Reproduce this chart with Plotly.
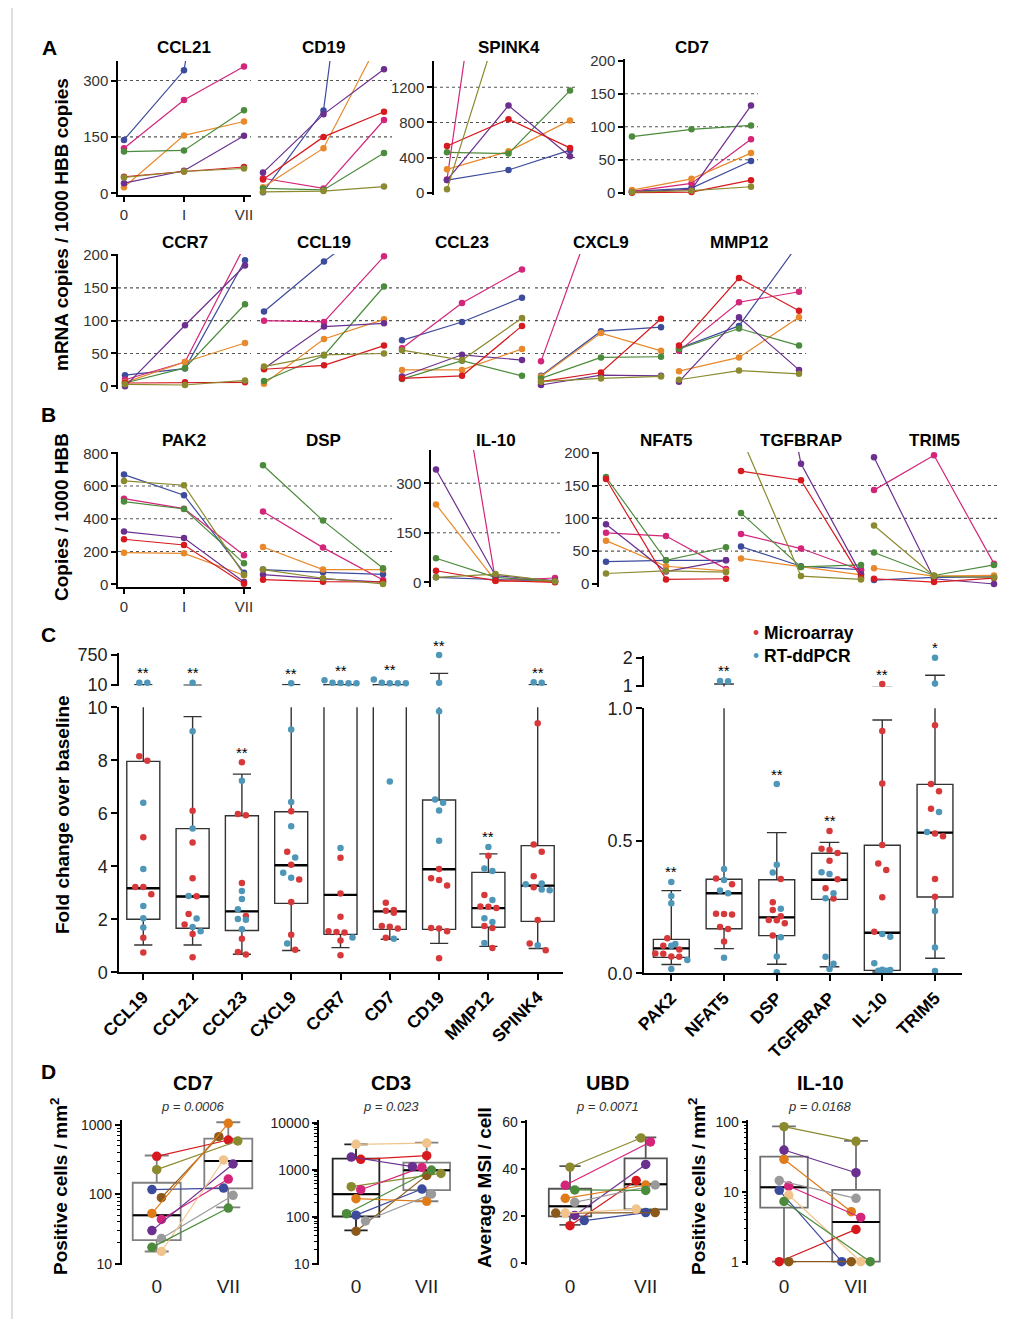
import math
import plotly.graph_objects as go

W, H = 1028, 1319
OX, OY = 8, 8  # page offset of the plot div (body margin) compensated in the pixel mapping
FONT = 'Liberation Sans, Arial, Helvetica, sans-serif'

# ---------------------------------------------------------------- DATA
TIMEPOINTS = ['0', 'I', 'VII']
# subjects (panels A, B): blue, magenta, orange, green, purple, red, olive
SUBJECT_COLORS = ['#3d4b9c', '#d3257a', '#e8892b', '#4b8b3b', '#6b2f8f', '#d61a1f', '#8b8a2f']

# Panel A: mRNA copies / 1000 HBB copies, each row = subject, columns = 0, I, VII
CCL21 = [[142, 327, 1280], [120, 248, 337], [16, 154, 191], [111, 114, 221], [27, 60, 153], [44, 58, 70], [42, 58, 66]]
CD19 = [[3, 220, 1450], [40, 13, 195], [16, 120, 430], [13, 9, 107], [55, 210, 330], [37, 150, 217], [4, 6, 18]]
SPINK4 = [[144, 258, 484], [150, 5000, 4000], [266, 471, 823], [460, 445, 1163], [144, 992, 415], [532, 836, 510], [38, 2270, 2500]]
CD7_A = [[2, 7, 48], [2, 14, 81], [4, 21, 60], [85, 96, 102], [1, 5, 132], [0, 1, 19], [1, 3, 9]]
CCR7 = [[17, 27, 192], [10, 37, 215], [6, 37, 66], [5, 28, 125], [0, 93, 184], [5, 6, 6], [3, 2, 9]]
CCL19 = [[114, 190, 260], [100, 98, 198], [4, 72, 102], [8, 47, 152], [27, 91, 96], [26, 32, 62], [30, 48, 50]]
CCL23 = [[70, 98, 135], [58, 127, 178], [25, 25, 57], [11, 39, 16], [15, 48, 40], [12, 16, 92], [55, 40, 104]]
CXCL9 = [[16, 84, 90], [38, 290, None], [15, 81, 54], [12, 44, 45], [2, 17, 16], [7, 21, 103], [7, 12, 15]]
MMP12 = [[58, 92, 218], [54, 128, 144], [23, 44, 105], [57, 88, 62], [7, 105, 25], [62, 165, 115], [10, 24, 19]]

# Panel B: copies / 1000 HBB
PAK2 = [[670, 544, 71], [523, 462, 177], [193, 189, 55], [505, 460, 128], [322, 283, 14], [275, 240, 4], [631, 605, 59]]
DSP = [[90, 73, 61], [444, 224, 26], [228, 90, 90], [727, 389, 98], [59, 33, 14], [28, 16, 15], [90, 37, 2]]
IL10_B = [[15, 8, 2], [1080, 5, 13], [236, 4, 2], [73, 15, 3], [342, 20, 5], [35, 5, 0], [15, 25, 3]]
NFAT5 = [[34, 36, 36], [78, 73, 23], [66, 27, 20], [163, 36, 56], [91, 19, 36], [160, 7, 8], [16, 20, 18]]
TGFBRAP = [[57, 27, 22], [76, 54, 21], [39, 26, 14], [108, 26, 29], [640, 183, 15], [172, 158, 10], [225, 12, 7]]
TRIM5 = [[6, 10, 11], [143, 196, 31], [24, 12, 13], [48, 13, 29], [193, 8, 0], [8, 3, 9], [89, 12, 10]]

# Panel C: fold change over baseline
MICRO_COLOR = '#d7393b'
DDPCR_COLOR = '#4f97b9'
LEFT_GENES = ['CCL19', 'CCL21', 'CCL23', 'CXCL9', 'CCR7', 'CD7', 'CD19', 'MMP12', 'SPINK4']
MICRO_LEFT = [
    [8.15, 7.98, 5.1, 3.22, 3.22, 2.95, 1.3, 0.75],
    [6.1, 4.9, 3.55, 2.87, 2.2, 1.8, 1.45, 0.57],
    [7.93, 5.97, 5.93, 3.37, 2.12, 1.27, 0.77, 0.67],
    [6.08, 4.55, 4.06, 3.5, 2.65, 1.42, 0.85],
    [4.32, 2.97, 2.1, 1.52, 1.55, 1.5, 1.2, 0.64],
    [2.62, 2.35, 2.32, 2.25, 1.75, 1.72, 1.65, 1.3],
    [3.9, 3.55, 3.48, 3.28, 1.65, 1.67, 1.55, 0.53],
    [4.4, 2.92, 2.48, 2.47, 2.43, 1.75, 1.67, 0.92],
    [9.4, 4.82, 4.55, 3.62, 3.21, 1.97, 1.09, 0.83],
]
DDPCR_LEFT = [
    [14, 14, 6.4, 3.9, 2.5, 2.04, 1.69],
    [14, 9.1, 5.43, 2.88, 2.03, 1.71, 1.55],
    [7.23, 3.07, 2.77, 2.38, 2.01, 1.98, 1.62],
    [13, 9.16, 6.43, 5.51, 4.33, 3.76, 3.57, 1.09],
    [13, 13, 13.5, 14, 20, 4.69, 1.31],
    [13, 14, 13, 13, 22, 7.2, 1.27],
    [750, 14, 9.85, 6.52, 6.4, 6.11, 4.96],
    [4.73, 3.92, 3.82, 2.73, 2.04, 1.9, 1.11],
    [14, 15, 3.35, 3.32, 3.1, 3.12, 1.02],
]
Q1_LEFT = [2.0, 1.66, 1.58, 2.6, 1.43, 1.62, 1.62, 1.7, 1.92]
MED_LEFT = [3.17, 2.86, 2.3, 4.04, 2.92, 2.3, 3.89, 2.42, 3.27]
Q3_LEFT = [7.96, 5.42, 5.91, 6.06, 10.3, 10.3, 6.5, 3.77, 4.78]
LO_LEFT = [1.03, 1.03, 0.68, 0.82, 0.93, 1.25, 1.09, 0.98, 0.9]
HI_LEFT = [10.5, 9.65, 7.48, 10.5, 10.4, 10.4, 53, 4.47, 10.5]
SIG_LEFT = ['**', '**', '**', '**', '**', '**', '**', '**', '**']

RIGHT_GENES = ['PAK2', 'NFAT5', 'DSP', 'TGFBRAP', 'IL-10', 'TRIM5']
MICRO_RIGHT = [
    [0.132, 0.104, 0.09, 0.074, 0.075, 0.063, 0.062],
    [0.358, 0.336, 0.224, 0.222, 0.225, 0.167, 0.175, 0.12],
    [0.356, 0.268, 0.239, 0.215, 0.201, 0.2, 0.189, 0.143],
    [0.537, 0.465, 0.47, 0.454, 0.425, 0.355, 0.321, 0.282],
    [1.07, 0.914, 0.716, 0.484, 0.414, 0.39, 0.287, 0.157],
    [0.936, 0.714, 0.687, 0.621, 0.528, 0.517, 0.356, 0.289],
]
DDPCR_RIGHT = [
    [0.345, 0.292, 0.264, 0.111, 0.104, 0.05, 0.016],
    [1.18, 1.17, 0.394, 0.352, 0.312, 0.302, 0.059],
    [0.714, 0.41, 0.38, 0.244, 0.136, 0.063, 0.004],
    [0.381, 0.375, 0.302, 0.283, 0.062, 0.036, 0.016],
    [0.148, 0.138, 0.038, 0.013, 0.012, 0.01, 0.01],
    [2.0, 1.09, 0.609, 0.533, 0.235, 0.097, 0.009],
]
Q1_RIGHT = [0.06, 0.168, 0.142, 0.279, 0.011, 0.288]
MED_RIGHT = [0.094, 0.302, 0.211, 0.353, 0.153, 0.531]
Q3_RIGHT = [0.128, 0.355, 0.353, 0.453, 0.483, 0.713]
LO_RIGHT = [0.033, 0.093, 0.034, 0.025, 0.005, 0.057]
HI_RIGHT = [0.312, 1.07, 0.531, 0.494, 0.956, 1.38]
SIG_RIGHT = ['**', '**', '**', '**', '**', '*']

# Panel D: subjects red, olive, blue, brown, orange, magenta, purple, gray, tan, green
D_COLORS = ['#d61a1f', '#8b8a2f', '#3d4b9c', '#8b5a1a', '#e07b1a', '#d3257a', '#6b2f8f', '#9a9a9a', '#f2c48d', '#4b8b3b']
D_TICKS = ['0', 'VII']
CD7_D0 = [353, 227, 117, 89.5, 53, 43.5, 30, 23, 15, 17.2]
CD7_D7 = [608, 588, 123, 679, 1057, 166, 274, 97, 313, 63.5]
CD3_D0 = [1660, 435, 108, 49, 242, 375, 1860, 81, 3460, 116]
CD3_D7 = [1985, 835, 388, 757, 212, 1120, 1160, 303, 3690, 984]
UBD_D0 = [15.8, 40.8, 18.0, 21.2, 27.5, 33.1, 20.2, 25.8, 21.2, 31.1]
UBD_D7 = [35.1, 53.3, 21.4, 21.4, 33.2, 51.6, 42.0, 33.2, 22.9, 30.9]
IL10_D0 = [1, 85.7, 10.5, 1, 29.2, 12.1, 39.7, 14.5, 9.0, 7.3]
IL10_D7 = [2.9, 52.9, 1, 1, 5.2, 4.3, 18.8, 8.07, 1, 1]
# box stats [day 0, day VII]
CD7_BOX = dict(q1=[21.9, 122], med=[49.8, 302], q3=[147, 635], lo=[15, 65], hi=[363, 1096])
CD3_BOX = dict(q1=[101, 369], med=[302, 968], q3=[1714, 1409], lo=[51, 213], hi=[3450, 3750])
UBD_BOX = dict(q1=[19.8, 22.8], med=[24.1, 33.5], q3=[31.6, 44.6], lo=[16.2, 22.0], hi=[41.3, 53.6])
IL10_BOX = dict(q1=[5.93, 1], med=[11.6, 3.7], q3=[31.9, 10.7], lo=[1, 1], hi=[86.7, 53.5])
P_VALUES = ['p = 0.0006', 'p = 0.023', 'p = 0.0071', 'p = 0.0168']

# ---------------------------------------------------------------- HELPERS
fig = go.Figure()
LAYOUT_AXES = {}
ANN = []
SHAPES = []
AXES = []
LINE_EW_FACTOR = 1.4  # plotly draws the 'line-ew' symbol 1.4x its nominal size


def pxx(p):
    return (p - OX) / W


def pxy(p):
    return 1 - (p - OY) / H


def lin_range(p_lo, p_hi, va, pa, vb, pb):
    k = (vb - va) / (pb - pa)
    return [va + (p_lo - pa) * k, va + (p_hi - pa) * k]


def make_axes(x0, x1, ytop, ybot, xcal, ycal, ylog=False, xstyle=None, ystyle=None):
    n = len(AXES) + 1
    sfx = '' if n == 1 else str(n)
    xr = lin_range(x0, x1, *xcal)
    (va, pa), (vb, pb) = ycal
    if ylog:
        va, vb = math.log10(va), math.log10(vb)
    yr = lin_range(ybot, ytop, va, pa, vb, pb)
    xd = dict(domain=[pxx(x0), pxx(x1)], range=xr, anchor='y' + sfx, showgrid=False, zeroline=False,
              showline=False, ticks='', showticklabels=False, fixedrange=True, automargin=False)
    yd = dict(domain=[pxy(ybot), pxy(ytop)], range=yr, anchor='x' + sfx, showgrid=False,
              zeroline=False, showline=False, ticks='', showticklabels=False, fixedrange=True,
              automargin=False)
    if ylog:
        yd['type'] = 'log'
    if xstyle:
        xd.update(xstyle)
    if ystyle:
        yd.update(ystyle)
    LAYOUT_AXES['xaxis' + sfx] = xd
    LAYOUT_AXES['yaxis' + sfx] = yd
    m = dict(x='x' + sfx, y='y' + sfx, x0=x0, x1=x1, ytop=ytop, ybot=ybot, xr=xr, yr=yr, ylog=ylog)
    AXES.append(m)
    return m


def axis_style(tickvals, ticktext=None, size=14, color='#333', lw=1.5, ticklen=5, bold=False):
    d = dict(showline=True, linecolor='black', linewidth=lw, ticks='outside', ticklen=ticklen,
             tickwidth=lw, tickcolor='black', showticklabels=True, tickmode='array',
             tickvals=tickvals, tickfont=dict(family=FONT, size=size, color=color))
    if ticktext is not None:
        d['ticktext'] = ['<b>%s</b>' % t for t in ticktext] if bold else ticktext
    return d


def tval(m, v):
    return math.log10(v) if m['ylog'] else v


def in_range(m, v):
    if v is None:
        return False
    if m['ylog'] and v <= 0:
        return False
    t = tval(m, v)
    return m['yr'][0] - 1e-9 <= t <= m['yr'][1]


def y_to_px(m, v):
    r0, r1 = m['yr']
    return m['ybot'] - (tval(m, v) - r0) / (r1 - r0) * (m['ybot'] - m['ytop'])


def x_unit_px(m):
    return (m['x1'] - m['x0']) / (m['xr'][1] - m['xr'][0])


def row_swarm(pys, d):
    order = sorted(range(len(pys)), key=lambda i: pys[i])
    offs = [0.0] * len(pys)
    row = []

    def flush(r):
        n = len(r)
        for j, idx in enumerate(r):
            offs[idx] = (j - (n - 1) / 2.0) * d

    for i in order:
        if row and pys[i] - pys[row[0]] >= d * 0.9:
            flush(row)
            row = []
        row.append(i)
    if row:
        flush(row)
    return offs


def text_ann(x, y, text, size, xref='paper', yref='paper', angle=0, xanchor='center', color='black', yanchor='middle'):
    ANN.append(dict(x=x, y=y, xref=xref, yref=yref, text=text, showarrow=False, textangle=angle,
                    xanchor=xanchor, yanchor=yanchor, font=dict(family=FONT, size=size, color=color)))


def gridlines(m, vals):
    for v in vals:
        SHAPES.append(dict(type='line', xref=m['x'] + ' domain', x0=0, x1=1, yref=m['y'], y0=v, y1=v,
                           line=dict(color='#555555', width=1.1, dash='dot'), layer='below'))


def line_panel(title, data, x0, x1, p0, p2, ytop, ybot, ycal, grid, yticks=None, show_x=False, title_y=48):
    xs = axis_style([0, 1, 2], TIMEPOINTS, size=15) if show_x else None
    ys = axis_style(yticks, [str(t) for t in yticks], size=15) if yticks else None
    m = make_axes(x0, x1, ytop, ybot, (0, p0, 2, p2), ycal, xstyle=xs, ystyle=ys)
    gridlines(m, grid)
    for s, vals in enumerate(data):
        c = SUBJECT_COLORS[s]
        fig.add_trace(go.Scatter(x=[0, 1, 2], y=vals, mode='lines', line=dict(color=c, width=1.2),
                                 xaxis=m['x'], yaxis=m['y'], hoverinfo='skip'))
        px = [k for k, v in enumerate(vals) if in_range(m, v)]
        fig.add_trace(go.Scatter(x=px, y=[vals[k] for k in px], mode='markers',
                                 marker=dict(size=6.5, color=c), cliponaxis=False,
                                 xaxis=m['x'], yaxis=m['y'], hoverinfo='skip'))
    text_ann(1, pxy(title_y), '<b>%s</b>' % title, 17, xref=m['x'])
    return m


# ---------------------------------------------------------------- PANEL A
R1 = dict(ytop=61, ybot=195)
line_panel('CCL21', CCL21, 118, 251, 124, 244, R1['ytop'], R1['ybot'], ((0, 193.3), (300, 80.5)), [150, 300],
           yticks=[0, 150, 300], show_x=True)
line_panel('CD19', CD19, 258, 392, 263, 384, R1['ytop'], R1['ybot'], ((0, 193.3), (300, 80.5)), [150, 300])
line_panel('SPINK4', SPINK4, 434, 575, 447, 570, R1['ytop'], R1['ybot'], ((0, 192.7), (1200, 87.3)), [400, 800, 1200],
           yticks=[0, 400, 800, 1200])
line_panel('CD7', CD7_A, 625, 758, 632, 751, 59, R1['ybot'], ((0, 192.7), (200, 60.7)), [50, 100, 150],
           yticks=[0, 50, 100, 150, 200])

R2 = dict(ytop=254, ybot=389)
cal2 = ((0, 386.3), (200, 255))
line_panel('CCR7', CCR7, 118, 251, 125, 245, R2['ytop'], R2['ybot'], cal2, [50, 100, 150],
           yticks=[0, 50, 100, 150, 200], title_y=242)
line_panel('CCL19', CCL19, 257, 392, 264, 384, R2['ytop'], R2['ybot'], cal2, [50, 100, 150], title_y=242)
line_panel('CCL23', CCL23, 396, 530, 402, 522, R2['ytop'], R2['ybot'], cal2, [50, 100, 150], title_y=242)
line_panel('CXCL9', CXCL9, 535, 667, 541, 661, R2['ytop'], R2['ybot'], cal2, [50, 100, 150], title_y=242)
line_panel('MMP12', MMP12, 673, 806, 679, 799, R2['ytop'], R2['ybot'], cal2, [50, 100, 150], title_y=242)

# ---------------------------------------------------------------- PANEL B
RB = dict(ytop=452, ybot=587)
calB1 = ((0, 584.3), (800, 453.3))
line_panel('PAK2', PAK2, 118, 251, 124, 244, RB['ytop'], RB['ybot'], calB1, [200, 400, 600],
           yticks=[0, 200, 400, 600, 800], show_x=True, title_y=440)
line_panel('DSP', DSP, 258, 392, 263, 383, RB['ytop'], RB['ybot'], calB1, [200, 400, 600], title_y=440)
line_panel('IL-10', IL10_B, 431, 561, 436, 555, 450, RB['ybot'], ((0, 582.3), (300, 483.3)), [150, 300],
           yticks=[0, 150, 300], title_y=440)
calB3 = ((0, 584), (200, 452.7))
line_panel('NFAT5', NFAT5, 599, 732, 606, 726, RB['ytop'], RB['ybot'], calB3, [50, 100, 150],
           yticks=[0, 50, 100, 150, 200], title_y=440)
line_panel('TGFBRAP', TGFBRAP, 735, 867, 741, 861, RB['ytop'], RB['ybot'], calB3, [50, 100, 150], title_y=440)
line_panel('TRIM5', TRIM5, 868, 1000, 874, 994, RB['ytop'], RB['ybot'], calB3, [50, 100, 150], title_y=440)

# ---------------------------------------------------------------- PANEL C


def panel_c(genes, micro, ddpcr, q1, med, q3, lo, hi, sig, lower, upper, thresh, box_w):
    n = len(genes)
    xs = list(range(n))
    upx = x_unit_px(lower)
    for m in (lower, upper):
        fig.add_trace(go.Box(x=xs, q1=q1, median=med, q3=q3, lowerfence=lo, upperfence=hi,
                             width=box_w, whiskerwidth=0.55, fillcolor='rgba(0,0,0,0)',
                             line=dict(color='#333', width=1.4), boxpoints=False,
                             xaxis=m['x'], yaxis=m['y'], hoverinfo='skip'))
    fig.add_trace(go.Scatter(x=xs, y=med, mode='markers',
                             marker=dict(symbol='line-ew', size=box_w * upx / LINE_EW_FACTOR,
                                         line=dict(color='black', width=2.4)),
                             xaxis=lower['x'], yaxis=lower['y'], hoverinfo='skip'))
    pts = {('m', 0): ([], []), ('m', 1): ([], []), ('d', 0): ([], []), ('d', 1): ([], [])}
    for i in range(n):
        vals = [(v, 'm') for v in micro[i]] + [(v, 'd') for v in ddpcr[i]]
        pys = [y_to_px(upper if v > thresh else lower, v) for v, _ in vals]
        offs = row_swarm(pys, 8.0)
        for k, (v, kind) in enumerate(vals):
            seg = 1 if v > thresh else 0
            pts[(kind, seg)][0].append(i + offs[k] / upx)
            pts[(kind, seg)][1].append(v)
        vmax = max(v for v, _ in vals)
        seg_m = upper if vmax > thresh else lower
        ANN.append(dict(x=i, y=tval(seg_m, vmax), xref=seg_m['x'], yref=seg_m['y'], text=sig[i],
                        showarrow=False, yshift=10, font=dict(family=FONT, size=15, color='black')))
    for (kind, seg), (px, py) in pts.items():
        m = upper if seg else lower
        fig.add_trace(go.Scatter(x=px, y=py, mode='markers', cliponaxis=False,
                                 marker=dict(size=6.5, color=MICRO_COLOR if kind == 'm' else DDPCR_COLOR),
                                 xaxis=m['x'], yaxis=m['y'], hoverinfo='skip'))


CL_lo = make_axes(119, 563, 707.3, 972.3, (0, 143.3, 8, 537.7), ((0, 972.3), (10, 707.3)),
                  xstyle=axis_style(list(range(len(LEFT_GENES))), LEFT_GENES, size=17.5, color='black',
                                    ticklen=6, bold=True),
                  ystyle=axis_style([0, 2, 4, 6, 8, 10], ['0', '2', '4', '6', '8', '10'], size=18, color='#222',
                                    ticklen=6))
LAYOUT_AXES['xaxis' + CL_lo['x'][1:]]['tickangle'] = -45
CL_hi = make_axes(119, 563, 653, 685.5, (0, 143.3, 8, 537.7), ((10, 685), (750, 655)), ylog=True,
                  ystyle=axis_style([10, 750], ['10', '750'], size=18, color='#222', ticklen=6))
panel_c(LEFT_GENES, MICRO_LEFT, DDPCR_LEFT, Q1_LEFT, MED_LEFT, Q3_LEFT, LO_LEFT, HI_LEFT, SIG_LEFT,
        CL_lo, CL_hi, 10, 0.67)

CR_lo = make_axes(644, 962, 708.3, 973.3, (0, 671.3, 5, 935), ((0, 973.3), (1, 708.3)),
                  xstyle=axis_style(list(range(len(RIGHT_GENES))), RIGHT_GENES, size=17.5, color='black',
                                    ticklen=6, bold=True),
                  ystyle=axis_style([0, 0.5, 1.0], ['0.0', '0.5', '1.0'], size=18, color='#222', ticklen=6))
LAYOUT_AXES['xaxis' + CR_lo['x'][1:]]['tickangle'] = -45
CR_hi = make_axes(644, 962, 656, 686.5, (0, 671.3, 5, 935), ((1, 686), (2, 657.7)),
                  ystyle=axis_style([1, 2], ['1', '2'], size=18, color='#222', ticklen=6))
panel_c(RIGHT_GENES, MICRO_RIGHT, DDPCR_RIGHT, Q1_RIGHT, MED_RIGHT, Q3_RIGHT, LO_RIGHT, HI_RIGHT, SIG_RIGHT,
        CR_lo, CR_hi, 1, 0.68)

# legend
text_ann(pxx(751), pxy(633), '<span style="color:%s">\u2022</span> <b>Microarray</b>' % MICRO_COLOR, 17.5,
         xanchor='left')
text_ann(pxx(751), pxy(656), '<span style="color:%s">\u2022</span> <b>RT-ddPCR</b>' % DDPCR_COLOR, 17.5,
         xanchor='left')

# ---------------------------------------------------------------- PANEL D


def minor_log(e_lo, e_hi):
    return [k * 10 ** e for e in range(e_lo, e_hi) for k in range(2, 10)]


def d_panel(m, title, pval, v0, v7, box, box_w, box_colors):
    upx = x_unit_px(m)
    for j in range(2):
        fig.add_trace(go.Box(x=[j], q1=[box['q1'][j]], median=[box['med'][j]], q3=[box['q3'][j]],
                             lowerfence=[box['lo'][j]], upperfence=[box['hi'][j]], width=box_w,
                             whiskerwidth=0.5, fillcolor='rgba(0,0,0,0)',
                             line=dict(color=box_colors[j], width=1.8), boxpoints=False,
                             xaxis=m['x'], yaxis=m['y'], hoverinfo='skip'))
    fig.add_trace(go.Scatter(x=[0, 1], y=box['med'], mode='markers',
                             marker=dict(symbol='line-ew', size=box_w * upx / LINE_EW_FACTOR,
                                         line=dict(color='black', width=2)),
                             xaxis=m['x'], yaxis=m['y'], hoverinfo='skip'))
    o0 = row_swarm([y_to_px(m, v) for v in v0], 9.5)
    o7 = row_swarm([y_to_px(m, v) for v in v7], 9.5)
    for s in range(len(v0)):
        fig.add_trace(go.Scatter(x=[o0[s] / upx, 1 + o7[s] / upx], y=[v0[s], v7[s]], mode='lines+markers',
                                 line=dict(color=D_COLORS[s], width=1.2),
                                 marker=dict(size=9.5, color=D_COLORS[s]), cliponaxis=False,
                                 xaxis=m['x'], yaxis=m['y'], hoverinfo='skip'))
    text_ann(0.5, pxy(1083), '<b>%s</b>' % title, 20, xref=m['x'])
    text_ann(0.5, pxy(1106), '<i>%s</i>' % pval, 13, xref=m['x'], color='#333')


def d_xstyle():
    return dict(tickmode='array', tickvals=[0, 1], ticktext=D_TICKS, showticklabels=True, ticks='',
                showline=False, tickfont=dict(family=FONT, size=19, color='#222'), ticklabelstandoff=8)


def d_ystyle(vals, labels, minor=None):
    d = axis_style(vals, labels, size=14, color='#222', ticklen=5)
    if minor:
        d['minor'] = dict(tickmode='array', tickvals=minor, ticks='outside', ticklen=3, tickwidth=1,
                          tickcolor='black')
    return d


D1 = make_axes(121.7, 262, 1120, 1265, (0, 156.7, 1, 228.3), ((10, 1263.7), (1000, 1125)), ylog=True,
               xstyle=d_xstyle(), ystyle=d_ystyle([10, 100, 1000], ['10', '100', '1000'], minor_log(1, 3)))
d_panel(D1, 'CD7', P_VALUES[0], CD7_D0, CD7_D7, CD7_BOX, 0.67, ['#808080', '#808080'])

D2 = make_axes(319, 458, 1120, 1265, (0, 356, 1, 426.7), ((10, 1263.7), (10000, 1122.7)), ylog=True,
               xstyle=d_xstyle(), ystyle=d_ystyle([10, 100, 1000, 10000], ['10', '100', '1000', '10000'],
                                                  minor_log(1, 4)))
d_panel(D2, 'CD3', P_VALUES[1], CD3_D0, CD3_D7, CD3_BOX, 0.66, ['#222222', '#808080'])

D3 = make_axes(527.3, 680, 1120, 1265, (0, 570, 1, 645.7), ((0, 1262.7), (60, 1122.3)),
               xstyle=d_xstyle(), ystyle=d_ystyle([0, 20, 40, 60], ['0', '20', '40', '60']))
d_panel(D3, 'UBD', P_VALUES[2], UBD_D0, UBD_D7, UBD_BOX, 0.56, ['#555555', '#555555'])

D4 = make_axes(748.3, 900, 1120, 1265, (0, 784, 1, 856), ((1, 1261.7), (100, 1122)), ylog=True,
               xstyle=d_xstyle(), ystyle=d_ystyle([1, 10, 100], ['1', '10', '100'], minor_log(0, 2)))
d_panel(D4, 'IL-10', P_VALUES[3], IL10_D0, IL10_D7, IL10_BOX, 0.66, ['#707070', '#707070'])

# ---------------------------------------------------------------- LABELS
for letter, (lx, ly) in zip('ABCD', [(49, 48), (48, 415), (48, 634), (48, 1071)]):
    text_ann(pxx(lx), pxy(ly), '<b>%s</b>' % letter, 21)

text_ann(pxx(62), pxy(225), '<b>mRNA copies / 1000 HBB copies</b>', 19, angle=-90)
text_ann(pxx(62), pxy(517), '<b>Copies / 1000 HBB</b>', 19, angle=-90)
text_ann(pxx(62), pxy(815), '<b>Fold change over baseline</b>', 19, angle=-90)
text_ann(pxx(59), pxy(1187), '<b>Positive cells / mm<sup>2</sup></b>', 19, angle=-90)
text_ann(pxx(484), pxy(1188), '<b>Average MSI / cell</b>', 19, angle=-90)
text_ann(pxx(697), pxy(1187), '<b>Positive cells / mm<sup>2</sup></b>', 19, angle=-90)

SHAPES.append(dict(type='line', xref='paper', yref='paper', x0=pxx(12), x1=pxx(12), y0=0, y1=1,
                   line=dict(color='#bdbdbd', width=1)))

fig.update_layout(LAYOUT_AXES)
fig.update_layout(width=W, height=H, margin=dict(l=0, r=0, t=0, b=0, pad=0, autoexpand=False), autosize=False,
                  paper_bgcolor='white', plot_bgcolor='white', showlegend=False,
                  annotations=ANN, shapes=SHAPES, font=dict(family=FONT, color='black'))
fig.write_html('out.html')
